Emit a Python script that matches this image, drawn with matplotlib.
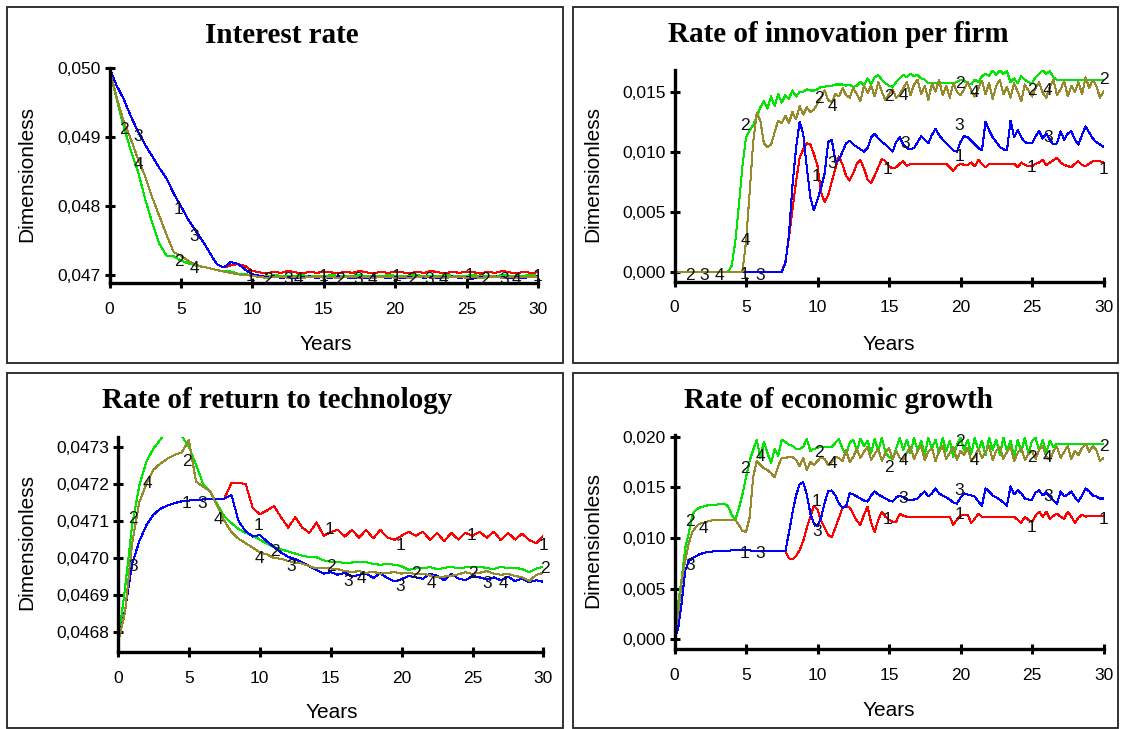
import matplotlib
matplotlib.use("Agg")
import matplotlib.pyplot as plt
import numpy as np
from matplotlib.patches import Rectangle
from matplotlib.ticker import FuncFormatter

# ---------------- data ----------------
# series order: 1 = red, 2 = green, 3 = blue, 4 = olive
T_HALF = np.arange(0, 30.01, 0.5)      # panels 1 and 3
T_QUARTER = np.arange(0, 30.01, 0.25)  # panels 2 and 4

# Interest rate, units of 1e-5
IR_BLUE = [5000, 4975, 4955, 4930, 4908, 4889, 4872, 4855, 4840, 4818,
           4800, 4781, 4765, 4750, 4733, 4716, 4711, 4719, 4716, 4708,
           4701,
           4699, 4697, 4698, 4696, 4697, 4695, 4697, 4698, 4696, 4697,
           4696, 4698, 4697, 4695, 4697, 4696, 4698, 4697, 4696, 4697,
           4695, 4697, 4698, 4696, 4697, 4696, 4697, 4698, 4696, 4697,
           4696, 4697, 4697, 4698, 4697, 4696, 4697, 4696, 4697, 4698]
IR_RED = IR_BLUE[:17] + [4714, 4716, 4713, 4706,
           4704, 4702, 4705, 4703, 4706, 4704, 4702, 4705, 4703, 4705,
           4704, 4702, 4705, 4703, 4706, 4704, 4702, 4705, 4703, 4705,
           4704, 4702, 4705, 4703, 4706, 4704, 4702, 4705, 4703, 4705,
           4704, 4702, 4705, 4703, 4706, 4704, 4702, 4705, 4703, 4704]
IR_GREEN = [4998, 4955, 4915, 4880, 4850, 4810, 4775, 4745, 4728, 4727,
            4721, 4717, 4714, 4712, 4710, 4707, 4706, 4705, 4702, 4701,
            4700,
            4699, 4698, 4700, 4699, 4698, 4699, 4700, 4698, 4699, 4698,
            4700, 4699, 4698, 4699, 4700, 4698, 4699, 4698, 4700, 4699,
            4698, 4699, 4700, 4698, 4699, 4698, 4700, 4699, 4698, 4699,
            4700, 4698, 4699, 4698, 4700, 4699, 4698, 4699, 4700, 4699]
IR_OLIVE = [4998, 4958, 4922, 4897, 4868, 4843, 4812, 4785, 4758, 4733,
            4728, 4721, 4715, 4712, 4710, 4707, 4705, 4703, 4701, 4700,
            4699,
            4697, 4696, 4697, 4698, 4696, 4697, 4696, 4697, 4698, 4696,
            4697, 4696, 4697, 4698, 4696, 4697, 4696, 4697, 4698, 4696,
            4697, 4696, 4697, 4698, 4696, 4697, 4696, 4697, 4698, 4696,
            4697, 4696, 4697, 4698, 4696, 4697, 4696, 4697, 4698, 4697]

# Rate of innovation per firm, units of 1e-4
INN_RED = [0] * 31 + [
    8, 28, 52, 75, 95, 102, 107, 106, 98, 88,
    66, 58, 64, 75, 86, 96, 89, 80, 76, 82,
    90, 93, 86, 77, 74, 80, 87, 94, 92, 88,
    86, 87, 90, 92, 88, 90, 90, 90, 90, 90,
    90, 90, 90, 90, 90, 90, 87, 84, 88, 90,
    89, 89, 91, 88, 93, 90, 87, 90, 90, 90,
    90, 90, 90, 90, 90, 87, 91, 89, 88, 88,
    90, 91, 93, 89, 91, 93, 95, 91, 89, 88,
    87, 90, 92, 89, 88, 90, 92, 92, 92, 91]
INN_BLUE = [0] * 31 + [
    7, 30, 72, 103, 125, 115, 87, 62, 51, 60,
    70, 82, 108, 110, 92, 93, 100, 107, 109, 106,
    104, 102, 100, 103, 112, 115, 111, 108, 106, 103,
    100, 108, 112, 106, 103, 102, 103, 108, 113, 110,
    107, 114, 119, 114, 110, 107, 104, 101, 100, 108,
    113, 112, 109, 106, 103, 101, 125, 118, 112, 108,
    104, 102, 101, 126, 112, 118, 112, 108, 107, 107,
    113, 117, 111, 115, 110, 106, 107, 117, 110, 115,
    117, 110, 106, 114, 121, 116, 111, 108, 106, 104]
INN_GREEN = [0] * 16 + [
    5, 25, 55, 88, 112, 118, 122, 129, 137, 142,
    136, 146, 138, 148, 141, 147, 144, 151, 146, 150,
    150, 152, 151, 151, 152, 154, 154, 155, 155, 156,
    156, 156, 155, 156, 154, 155, 158, 155, 161, 156,
    162, 164, 160, 157, 155, 154, 158, 161, 164, 162,
    165, 163, 164, 161, 160, 157, 157, 157, 157, 157,
    157, 157, 157, 158, 160, 159, 157, 156, 160, 158,
    163, 165, 163, 168, 164, 168, 165, 167, 158, 161,
    157, 163, 160, 158, 157, 162, 165, 168, 165, 167,
    162] + [160] * 14
INN_OLIVE = [0] * 20 + [
    25, 65, 108, 132, 126, 107, 104, 106, 116, 126,
    124, 130, 124, 133, 127, 138, 131, 137, 133, 135,
    140, 145, 151, 143, 141, 148, 146, 153, 147, 145,
    153, 148, 142, 155, 149, 155, 146, 158, 150, 143,
    148, 152, 145, 148, 153, 158, 147, 156, 160, 148,
    155, 143, 157, 150, 160, 147, 155, 145, 157, 150,
    147, 152, 158, 151, 146, 153, 159, 148, 157, 144,
    155, 160, 148, 154, 145, 157, 150, 142, 156, 151,
    146, 153, 158, 149, 145, 154, 160, 147, 152, 159,
    146, 155, 150, 158, 148, 162, 153, 160, 155, 145,
    150]

# Rate of return to technology, units of 1e-6
RT_GREEN = [46770, 46920, 47090, 47195, 47260, 47295, 47320, 47345, 47350, 47328,
            47300, 47252, 47200, 47178, 47145, 47112, 47094, 47078, 47068, 47060,
            47050, 47038, 47030, 47023, 47018, 47012, 47006, 47003, 47002, 46994,
            46990, 46990, 46986, 46988, 46990, 46989, 46984, 46982, 46984, 46982,
            46978, 46968, 46972, 46972, 46976, 46970, 46973, 46977, 46972, 46975,
            46977, 46977, 46973, 46970, 46977, 46972, 46974, 46970, 46962, 46972,
            46976]
RT_OLIVE = [46770, 46855, 47040, 47150, 47200, 47238, 47255, 47268, 47278, 47285,
            47318, 47206, 47192, 47180, 47140, 47100, 47070, 47052, 47040, 47028,
            47015, 47010, 47000, 46998, 46992, 46988, 46985, 46978, 46972, 46974,
            46972, 46970, 46965, 46962, 46965, 46960, 46963, 46958, 46960, 46962,
            46958, 46961, 46956, 46958, 46953, 46948, 46950, 46952, 46956, 46962,
            46957, 46960, 46965, 46958, 46955, 46957, 46952, 46948, 46938, 46955,
            46960]
RT_BLUE = [46770, 46860, 46985, 47045, 47088, 47117, 47133, 47142, 47148, 47153,
           47155, 47156, 47158, 47160, 47160, 47160, 47170, 47100, 47072, 47058,
           47062, 47045, 47030, 47015, 47003, 46997, 46988, 46978, 46968, 46958,
           46962, 46955, 46960, 46950, 46955, 46959, 46946, 46959, 46946, 46937,
           46943, 46952, 46948, 46944, 46958, 46952, 46940, 46957, 46945, 46940,
           46952, 46948, 46942, 46948, 46940, 46950, 46938, 46945, 46935, 46940,
           46936]
RT_RED = RT_BLUE[:16] + [
    47202, 47202, 47200, 47135, 47118, 47128, 47140, 47110, 47082, 47110,
    47082, 47068, 47096, 47060, 47070, 47076, 47058, 47076, 47055, 47076,
    47053, 47076, 47055, 47049, 47060, 47071, 47060, 47071, 47049, 47068,
    47045, 47068, 47050, 47068, 47060, 47071, 47055, 47071, 47048, 47068,
    47050, 47066, 47048, 47040, 47060]

# Rate of economic growth, units of 1e-4
EG_BLUE = [1, 10, 36, 68, 77, 80, 82, 84, 85, 86,
           86, 87, 87, 87, 87, 87, 88, 88, 88, 88,
           88, 88, 87, 87, 87, 87, 87, 87, 87, 87,
           87, 87, 105, 125, 142, 153, 155, 143, 124, 114,
           112, 120, 135, 146, 147, 142, 134, 130, 131, 144,
           143, 141, 139, 137, 136, 142, 146, 143, 141, 139,
           137, 136, 140, 142, 140, 138, 138, 138, 139, 143,
           146, 141, 144, 149, 144, 142, 140, 138, 135, 134,
           140, 144, 143, 142, 141, 136, 132, 149, 146, 142,
           140, 138, 135, 132, 151, 143, 147, 144, 139, 138,
           138, 145, 147, 142, 145, 141, 137, 134, 146, 141,
           143, 146, 140, 136, 142, 149, 146, 142, 141, 139,
           139]
EG_RED = EG_BLUE[:32] + [
    80, 79, 82, 88, 97, 110, 121, 132, 128, 117,
    110, 103, 101, 110, 120, 130, 132, 130, 124, 117,
    113, 123, 131, 115, 106, 118, 126, 121, 118, 116,
    116, 124, 122] + [121] * 13 + [
    113, 118, 122, 123, 123, 115, 119, 124, 121] + [121] * 9 + [
    118, 115, 121, 118, 116, 122, 126, 121, 126, 119,
    122, 124, 121, 119, 126, 121, 115, 120, 123, 121] + [122] * 5
EG_GREEN = [1, 35, 60, 90, 105, 123, 128, 130, 131, 132,
            133, 133, 133, 134, 134, 131, 123, 118, 129, 143,
            160, 176, 187, 197, 179, 195, 184, 174, 188, 181,
            197, 195, 192, 191, 188, 188, 190, 198, 186, 188,
            189, 190, 190, 190, 190, 194, 198, 188, 182, 194,
            197, 186, 198, 191, 196, 184, 198, 186, 199, 185,
            180, 178, 188, 199, 187, 197, 184, 199, 186, 196,
            182, 199, 188, 197, 184, 199, 186, 196, 180, 192,
            199, 187, 197, 183, 199, 186, 196, 182, 199, 187,
            197, 182, 199, 186, 196, 180, 197, 185, 199, 183,
            196, 199, 186, 197, 184, 196, 190] + [193] * 14
EG_OLIVE = [1, 25, 57, 78, 95, 106, 111, 114, 115, 116,
            117, 118, 118, 118, 118, 118, 118, 118, 113, 107,
            106, 120, 160, 176, 172, 169, 167, 164, 160, 171,
            179, 179, 180, 180, 177, 171, 179, 167, 175, 172,
            176, 180, 178, 172, 175, 180, 179, 176, 187, 175,
            180, 188, 179, 185, 190, 177, 183, 188, 176, 184,
            189, 178, 186, 179, 177, 184, 190, 178, 186, 191,
            177, 185, 189, 176, 186, 191, 178, 184, 190, 177,
            186, 182, 189, 176, 180, 188, 179, 185, 191, 177,
            186, 190, 178, 185, 190, 176, 184, 189, 177, 183,
            186, 178, 187, 191, 180, 177, 186, 190, 179, 185,
            191, 178, 186, 182, 189, 193, 185, 191, 187, 176,
            179]

# number labels that sit on the curves: (text, year, value)
IR_LABELS = [("2", 0.99, 0.04911), ("3", 2.0, 0.04901), ("4", 2.0, 0.04860),
             ("1", 4.8, 0.04795), ("3", 5.95, 0.04756), ("2", 4.85, 0.04719),
             ("4", 5.95, 0.04710), ("1", 9.9, 0.04698), ("2", 11.1, 0.04693),
             ("3", 12.5, 0.04694), ("4", 13.2, 0.04693), ("1", 15.0, 0.04698),
             ("2", 16.1, 0.04694), ("3", 17.4, 0.04693), ("4", 18.4, 0.04693),
             ("1", 20.1, 0.04698), ("2", 21.2, 0.04693), ("3", 22.4, 0.04693),
             ("4", 23.4, 0.04693), ("1", 25.2, 0.04699), ("2", 26.3, 0.04693),
             ("3", 27.6, 0.04693), ("4", 28.5, 0.04693), ("1", 30.0, 0.04698)]
INN_LABELS = [("2", 1.07, -0.0003), ("3", 2.05, -0.0003), ("4", 3.15, -0.0003),
              ("1", 4.9, -0.0002), ("3", 6.0, -0.0003), ("2", 4.94, 0.0122),
              ("4", 4.94, 0.0026), ("2", 10.07, 0.01445), ("4", 11.06, 0.01375),
              ("1", 9.95, 0.0079), ("3", 11.06, 0.0090), ("2", 15.0, 0.0146),
              ("4", 16.0, 0.0147), ("1", 14.9, 0.0085), ("3", 16.1, 0.0107),
              ("2", 19.94, 0.0157), ("4", 21.0, 0.0149), ("1", 19.94, 0.0096),
              ("3", 19.94, 0.0122), ("2", 25.0, 0.0151), ("4", 26.1, 0.0151),
              ("1", 25.0, 0.0087), ("3", 26.1, 0.0112), ("2", 30.06, 0.0160),
              ("1", 30.0, 0.0085)]
RT_LABELS = [("2", 1.04, 0.047107), ("3", 1.04, 0.046977), ("4", 2.07, 0.047202),
             ("2", 4.89, 0.04726), ("1", 4.8, 0.047148), ("3", 5.96, 0.047148),
             ("4", 7.07, 0.047103), ("1", 9.89, 0.047089), ("4", 9.95, 0.047000),
             ("2", 11.04, 0.047017), ("3", 12.2, 0.046977), ("1", 14.9, 0.047076),
             ("2", 15.0, 0.046977), ("3", 16.2, 0.046936), ("4", 17.2, 0.046946),
             ("1", 19.9, 0.047035), ("3", 19.9, 0.046923), ("2", 21.0, 0.046959),
             ("4", 22.1, 0.046932), ("1", 24.9, 0.047062), ("2", 25.0, 0.046959),
             ("3", 26.0, 0.046932), ("4", 27.2, 0.046932), ("1", 30.0, 0.047035),
             ("2", 30.1, 0.046972)]
EG_LABELS = [("2", 1.07, 0.0116), ("4", 2.05, 0.01096), ("3", 1.07, 0.0073),
             ("2", 4.94, 0.0169), ("4", 6.0, 0.0180), ("1", 4.9, 0.0085),
             ("3", 6.0, 0.0085), ("2", 10.07, 0.0184), ("4", 11.06, 0.0174),
             ("1", 9.9, 0.0136), ("3", 10.0, 0.0106), ("2", 15.0, 0.0170),
             ("4", 16.0, 0.0177), ("1", 14.9, 0.0118), ("3", 16.0, 0.0139),
             ("2", 19.94, 0.0195), ("4", 21.0, 0.0177), ("1", 19.94, 0.0123),
             ("3", 19.94, 0.0147), ("2", 25.0, 0.0179), ("4", 26.1, 0.0179),
             ("1", 25.0, 0.0110), ("3", 26.1, 0.0141), ("2", 30.0, 0.0190),
             ("1", 30.0, 0.0118)]

COLORS = {1: "#ff0000", 2: "#00e600", 3: "#0000ff", 4: "#958a2c"}

# ---------------- drawing ----------------
plt.rcParams["font.family"] = ["Liberation Sans", "DejaVu Sans"]
W, H = 1122, 729
fig = plt.figure(figsize=(W / 100, H / 100), dpi=100)


def fx(x):
    return x / W


def fy(y):
    return 1 - y / H


def comma_fmt(decimals):
    return FuncFormatter(lambda v, _: f"{v:.{decimals}f}".replace(".", ","))


def panel(box, axbox, title, tpos, ypos, xlab_pos, t, series, scale, ylim,
          yticks, decimals, labels):
    x0, y0, x1, y1 = box
    fig.add_artist(Rectangle((fx(x0), fy(y1)), fx(x1 - x0), (y1 - y0) / H,
                             transform=fig.transFigure, fill=False,
                             lw=1.3, ec="#222222"))
    left, top, right, bottom = axbox
    ax = fig.add_axes([fx(left), fy(bottom), fx(right - left), (bottom - top) / H])
    for k in (1, 2, 3, 4):
        ax.plot(t, np.array(series[k]) * scale, color=COLORS[k], lw=0.75,
                antialiased=False)
    ax.set_xlim(0, 30)
    ax.set_ylim(*ylim)
    ax.set_xticks(range(0, 31, 5))
    ax.set_yticks(yticks)
    ax.yaxis.set_major_formatter(comma_fmt(decimals))
    for side in ("top", "right"):
        ax.spines[side].set_visible(False)
    for side in ("left", "bottom"):
        ax.spines[side].set_linewidth(2.4)
    ax.tick_params(direction="inout", length=7, width=2.2, labelsize=12.5,
                   colors="black")
    ax.tick_params(axis="x", pad=10)
    ax.tick_params(axis="y", pad=3)
    ax.patch.set_alpha(0)
    for s, tx, ty in labels:
        ax.text(tx, ty, s, ha="center", va="center", fontsize=12.5,
                color="#111111", zorder=5, clip_on=False)
    fig.text(fx(tpos[0]), fy(tpos[1]), title, ha="center", va="baseline",
             fontsize=21, fontweight="bold", family="Liberation Serif")
    fig.text(fx(xlab_pos[0]), fy(xlab_pos[1]), "Years", ha="center",
             va="baseline", fontsize=15)
    fig.text(fx(ypos[0]), fy(ypos[1]), "Dimensionless", rotation=90,
             ha="center", va="center", fontsize=15)
    return ax


panel((7, 7, 563, 363), (109.5, 68.3, 538, 283.3), "Interest rate",
      (282, 43), (27, 174), (326, 350), T_HALF,
      {1: IR_RED, 2: IR_GREEN, 3: IR_BLUE, 4: IR_OLIVE}, 1e-5,
      (0.04688, 0.0500), [0.047, 0.048, 0.049, 0.050], 3, IR_LABELS)

panel((573, 7, 1118, 363), (674.5, 70, 1103.5, 281.7), "Rate of innovation per firm",
      (838, 42), (593, 174), (889, 350), T_QUARTER,
      {1: INN_RED, 2: INN_GREEN, 3: INN_BLUE, 4: INN_OLIVE}, 1e-4,
      (-0.000833, 0.016808), [0.0, 0.005, 0.010, 0.015], 3, INN_LABELS)

panel((7, 373, 563, 728), (118, 436.7, 543.4, 652.3), "Rate of return to technology",
      (277, 408), (27, 542), (332, 718), T_HALF,
      {1: RT_RED, 2: RT_GREEN, 3: RT_BLUE, 4: RT_OLIVE}, 1e-6,
      (0.046746, 0.047327), [0.0468, 0.0469, 0.0470, 0.0471, 0.0472, 0.0473], 4,
      RT_LABELS)

panel((573, 373, 1118, 728), (674.5, 435, 1103.5, 649), "Rate of economic growth",
      (839, 408), (593, 540), (889, 716), T_QUARTER,
      {1: EG_RED, 2: EG_GREEN, 3: EG_BLUE, 4: EG_OLIVE}, 1e-4,
      (-0.000958, 0.02017), [0.0, 0.005, 0.010, 0.015, 0.020], 3, EG_LABELS)

fig.savefig("out.png", dpi=100, facecolor="white")
